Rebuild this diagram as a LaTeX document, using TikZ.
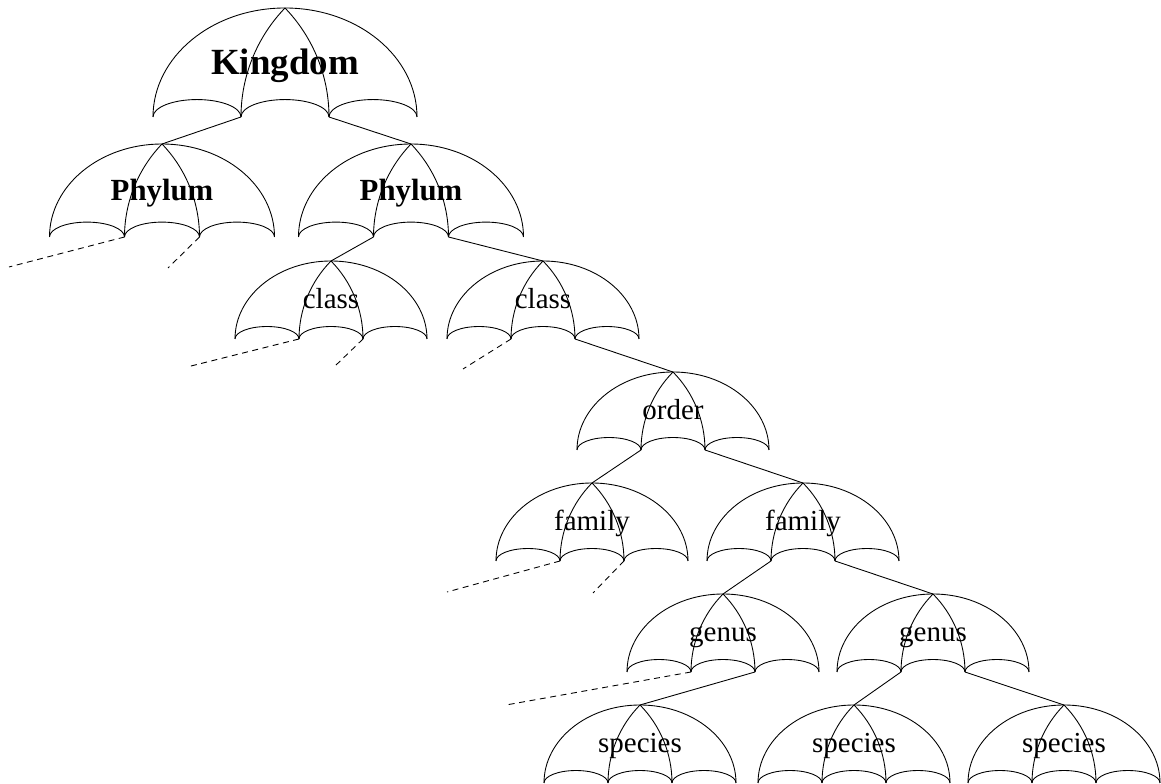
\documentclass[tikz,border=0pt]{standalone}
\usepackage{fontspec}
\setmainfont{Liberation Serif}
\usetikzlibrary{calc}
\tikzset{
	rank/.style={inner sep=0pt, anchor=base, font=\fontsize{16.5}{19}\selectfont},
	kingrank/.style={font=\fontsize{21}{25}\selectfont\bfseries},
	phylrank/.style={font=\fontsize{17.5}{21}\selectfont\bfseries},
	branch/.style={line width=0.5pt},
	stub/.style={line width=0.5pt, dash pattern=on 3.4pt off 2.6pt},
	% umbrella: half width, height, label style, label
	pics/umbrella/.style n args={4}{code={
		\pgfmathsetmacro\ribb{#1/3}
		\pgfmathsetmacro\ribc{#2*(#2/(2*\ribb))-\ribb/2}
		\pgfmathsetmacro\ribr{\ribc+\ribb}
		\pgfmathsetmacro\ribt{atan(#2/\ribc)}
		\coordinate (-top) at (0,0);
		\coordinate (-l) at ({-\ribb},{-#2});
		\coordinate (-r) at ({\ribb},{-#2});
		\draw[line width=0.5pt] ({-#1},{-#2}) arc[start angle=180, end angle=0, x radius=#1, y radius=#2];
		\draw[line width=0.5pt] (-l) arc[start angle=180, end angle={180-\ribt}, radius=\ribr];
		\draw[line width=0.5pt] (-top) arc[start angle=\ribt, end angle=0, radius=\ribr];
		\foreach \i in {0,1,2}
			\draw[line width=0.5pt] ({-#1+\i*2*\ribb},{-#2}) arc[start angle=180, end angle=0, x radius=\ribb, y radius={0.16*#2}];
		\node[rank, #3] (-name) at (0,{-0.61*#2}) {#4};
	}}
}

\begin{document}
\begin{tikzpicture}[x=0.02cm, y=0.02cm]
		%%%%% START %%%%%
		\useasboundingbox (0,0) rectangle (1161,784);
		
		\pic (k) at (285,776) {umbrella={132}{109}{kingrank}{Kingdom}};
		
		\pic (p1) at (162,640) {umbrella={112.5}{93}{phylrank}{Phylum}};
		\pic (p2) at (411,640) {umbrella={112.5}{93}{phylrank}{Phylum}};
		
		\pic (c1) at (331,523) {umbrella={96}{78}{}{class}};
		\pic (c2) at (543,523) {umbrella={96}{78}{}{class}};
		
		\pic (o) at (673,412) {umbrella={96}{78}{}{order}};
		
		\pic (f1) at (592,301) {umbrella={96}{78}{}{family}};
		\pic (f2) at (803,301) {umbrella={96}{78}{}{family}};
		
		\pic (g1) at (723,190) {umbrella={96}{78}{}{genus}};
		\pic (g2) at (933,190) {umbrella={96}{78}{}{genus}};
		
		\pic (s1) at (640,79) {umbrella={96}{78}{}{species}};
		\pic (s2) at (854,79) {umbrella={96}{78}{}{species}};
		\pic (s3) at (1064,79) {umbrella={96}{78}{}{species}};
		
		% loose ends
		\coordinate (d1) at (9,517);
		\coordinate (d2) at (168,516);
		\coordinate (d3) at (187,417);
		\coordinate (d4) at (334,417);
		\coordinate (d5) at (463,415);
		\coordinate (d6) at (447,192);
		\coordinate (d7) at (593,191);
		\coordinate (d8) at (506,79);
		
		\draw[branch] (k-l) -- (p1-top);
		\draw[branch] (k-r) -- (p2-top);
		
		\draw[stub] (p1-l) -- (d1);
		\draw[stub] (p1-r) -- (d2);
		\draw[branch] (p2-l) -- (c1-top);
		\draw[branch] (p2-r) -- (c2-top);
		
		\draw[stub] (c1-l) -- (d3);
		\draw[stub] (c1-r) -- (d4);
		\draw[stub] (c2-l) -- (d5);
		\draw[branch] (c2-r) -- (o-top);
		
		\draw[branch] (o-l) -- (f1-top);
		\draw[branch] (o-r) -- (f2-top);
		
		\draw[stub] (f1-l) -- (d6);
		\draw[stub] (f1-r) -- (d7);
		\draw[branch] (f2-l) -- (g1-top);
		\draw[branch] (f2-r) -- (g2-top);
		
		\draw[stub] (g1-l) -- (d8);
		\draw[branch] (g1-r) -- (s1-top);
		\draw[branch] (g2-l) -- (s2-top);
		\draw[branch] (g2-r) -- (s3-top);
		
		%%%%% END %%%%%
\end{tikzpicture}
\end{document}
